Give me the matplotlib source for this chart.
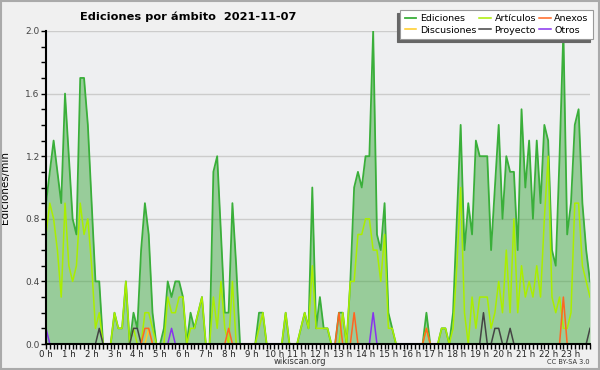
import matplotlib.pyplot as plt
from matplotlib.ticker import MultipleLocator, FixedLocator
from matplotlib.patches import Rectangle
import numpy as np

# edits per minute, one value every 10 minutes (00:00 .. 23:50)
ediciones = [
    0.9, 1.1, 1.3, 1.1, 0.9, 1.6, 1.2, 0.8, 0.7, 1.7, 1.7, 1.4,
    0.9, 0.4, 0.4, 0, 0, 0, 0.2, 0.1, 0.1, 0.4, 0, 0.2,
    0.1, 0.6, 0.9, 0.7, 0.2, 0, 0, 0.1, 0.4, 0.3, 0.4, 0.4,
    0.3, 0, 0.2, 0.1, 0.2, 0.3, 0, 0, 1.1, 1.2, 0.7, 0.2,
    0.2, 0.9, 0.5, 0, 0, 0, 0, 0, 0.2, 0.2, 0, 0,
    0, 0, 0, 0.2, 0, 0, 0, 0.1, 0.2, 0.1, 1.0, 0.1,
    0.3, 0.1, 0.1, 0, 0, 0.2, 0.2, 0, 0.4, 1.0, 1.1, 1.0,
    1.2, 1.2, 2.0, 0.7, 0.6, 0.9, 0.2, 0.1, 0, 0, 0, 0,
    0, 0, 0, 0, 0.2, 0, 0, 0, 0.1, 0.1, 0, 0.2,
    0.8, 1.4, 0.6, 0.9, 0.7, 1.3, 1.2, 1.2, 1.2, 0.6, 1.0, 1.4,
    0.8, 1.2, 1.1, 1.1, 0.6, 1.5, 1.0, 1.3, 0.8, 1.3, 0.9, 1.4,
    1.3, 0.6, 0.5, 1.2, 2.0, 0.7, 0.9, 1.4, 1.5, 0.9, 0.6, 0.4,
]
articulos = [
    0.7, 0.9, 0.8, 0.6, 0.3, 0.9, 0.5, 0.4, 0.5, 0.9, 0.7, 0.8,
    0.5, 0.1, 0.2, 0, 0, 0, 0.2, 0.1, 0.1, 0.4, 0, 0.1,
    0, 0, 0.2, 0.2, 0.1, 0, 0, 0, 0.3, 0.2, 0.2, 0.3,
    0.3, 0, 0.1, 0.1, 0.2, 0.3, 0, 0, 0.3, 0.1, 0.4, 0.1,
    0, 0.4, 0, 0, 0, 0, 0, 0, 0.1, 0.2, 0, 0,
    0, 0, 0, 0.2, 0, 0, 0, 0.1, 0.2, 0.1, 0.5, 0.1,
    0.1, 0.1, 0.1, 0, 0, 0, 0.2, 0, 0.4, 0.4, 0.7, 0.7,
    0.8, 0.8, 0.6, 0.6, 0.4, 0.7, 0.1, 0.1, 0, 0, 0, 0,
    0, 0, 0, 0, 0.1, 0, 0, 0, 0.1, 0.1, 0, 0.1,
    0.5, 1.0, 0.2, 0, 0.3, 0.1, 0.3, 0.3, 0.3, 0.1, 0.2, 0.4,
    0.2, 0.6, 0.2, 0.8, 0.2, 0.5, 0.3, 0.4, 0.3, 0.5, 0.3, 0.8,
    1.2, 0.3, 0.2, 0.3, 0.1, 0.1, 0.2, 0.9, 0.9, 0.5, 0.4, 0.3,
]
discusiones = [
    0, 0, 0, 0, 0, 0, 0, 0, 0, 0, 0, 0,
    0, 0, 0, 0, 0, 0, 0, 0, 0, 0, 0, 0,
    0, 0, 0, 0.1, 0, 0, 0, 0, 0, 0, 0, 0,
    0, 0, 0, 0, 0, 0, 0, 0, 0, 0, 0, 0,
    0, 0, 0, 0, 0, 0, 0, 0, 0, 0, 0, 0,
    0, 0, 0, 0, 0, 0, 0, 0, 0, 0, 0, 0,
    0, 0, 0, 0, 0, 0, 0, 0, 0, 0, 0, 0,
    0, 0, 0, 0, 0, 0, 0, 0, 0, 0, 0, 0,
    0, 0, 0, 0, 0, 0, 0, 0, 0, 0, 0, 0,
    0, 0, 0, 0, 0, 0, 0, 0, 0, 0, 0, 0,
    0, 0, 0, 0, 0, 0, 0, 0, 0, 0, 0, 0,
    0, 0, 0, 0, 0, 0, 0, 0, 0, 0, 0, 0,
]
proyecto = [
    0, 0, 0, 0, 0, 0, 0, 0, 0, 0, 0, 0,
    0, 0, 0.1, 0, 0, 0, 0, 0, 0, 0, 0, 0.1,
    0.1, 0, 0, 0, 0, 0, 0, 0, 0, 0, 0, 0,
    0, 0, 0, 0, 0, 0, 0, 0, 0, 0, 0, 0,
    0, 0, 0, 0, 0, 0, 0, 0, 0, 0, 0, 0,
    0, 0, 0, 0, 0, 0, 0, 0, 0, 0, 0, 0,
    0, 0, 0, 0, 0, 0, 0, 0, 0, 0, 0, 0,
    0, 0, 0, 0, 0, 0, 0, 0, 0, 0, 0, 0,
    0, 0, 0, 0, 0, 0, 0, 0, 0, 0, 0, 0,
    0, 0, 0, 0, 0, 0, 0, 0.2, 0, 0, 0.1, 0.1,
    0, 0, 0.1, 0, 0, 0, 0, 0, 0, 0, 0, 0,
    0, 0, 0, 0, 0, 0, 0, 0, 0, 0, 0, 0.1,
]
anexos = [
    0, 0, 0, 0, 0, 0, 0, 0, 0, 0, 0, 0,
    0, 0, 0, 0, 0, 0, 0, 0, 0, 0, 0, 0,
    0, 0, 0.1, 0.1, 0, 0, 0, 0, 0, 0, 0, 0,
    0, 0, 0, 0, 0, 0, 0, 0, 0, 0, 0, 0,
    0.1, 0, 0, 0, 0, 0, 0, 0, 0, 0, 0, 0,
    0, 0, 0, 0, 0, 0, 0, 0, 0, 0, 0, 0,
    0, 0, 0, 0, 0, 0.2, 0, 0, 0, 0.2, 0, 0,
    0, 0, 0, 0, 0, 0, 0, 0, 0, 0, 0, 0,
    0, 0, 0, 0, 0.1, 0, 0, 0, 0, 0, 0, 0,
    0, 0, 0, 0, 0, 0, 0, 0, 0, 0, 0, 0,
    0, 0, 0, 0, 0, 0, 0, 0, 0, 0, 0, 0,
    0, 0, 0, 0, 0.3, 0, 0, 0, 0, 0, 0, 0,
]
otros = [
    0.1, 0, 0, 0, 0, 0, 0, 0, 0, 0, 0, 0,
    0, 0, 0, 0, 0, 0, 0, 0, 0, 0, 0, 0,
    0, 0, 0, 0, 0, 0, 0, 0, 0, 0.1, 0, 0,
    0, 0, 0, 0, 0, 0, 0, 0, 0, 0, 0, 0,
    0, 0, 0, 0, 0, 0, 0, 0, 0, 0, 0, 0,
    0, 0, 0, 0, 0, 0, 0, 0, 0, 0, 0, 0,
    0, 0, 0, 0, 0, 0, 0, 0, 0, 0, 0, 0,
    0, 0, 0.2, 0, 0, 0, 0, 0, 0, 0, 0, 0,
    0, 0, 0, 0, 0, 0, 0, 0, 0, 0, 0, 0,
    0, 0, 0, 0, 0, 0, 0, 0, 0, 0, 0, 0,
    0, 0, 0, 0, 0, 0, 0, 0, 0, 0, 0, 0,
    0, 0, 0, 0, 0, 0, 0, 0, 0, 0, 0, 0,
]
hour_labels = [f"{h} h" for h in range(24)]

x = np.arange(len(ediciones))

fig = plt.figure(figsize=(6, 3.7), dpi=100, facecolor="#f0f0f0")
ax = fig.add_axes([46 / 600, 26 / 370, 544 / 600, 313 / 370])
ax.set_facecolor("#eeeff1")

# total edits as filled area
ax.fill_between(x, ediciones, color="#44aa44", alpha=0.5, lw=0, zorder=1)
ax.plot(x, ediciones, color="#3aaf3a", lw=1.3, label="Ediciones", zorder=3)
ax.plot(x, discusiones, color="#ffcc22", lw=1.1, label="Discusiones", zorder=3)
ax.plot(x, articulos, color="#aaee00", lw=1.1, label="Artículos", zorder=3)
ax.plot(x, proyecto, color="#444444", lw=1.1, label="Proyecto", zorder=3)
ax.plot(x, anexos, color="#ff6622", lw=1.1, label="Anexos", zorder=3)
ax.plot(x, otros, color="#8833ee", lw=1.1, label="Otros", zorder=3)

ax.set_xlim(0, len(ediciones) - 1)
ax.set_ylim(0, 2.0)

ax.xaxis.set_major_locator(FixedLocator(range(0, 144, 6)))
ax.set_xticklabels(hour_labels)
ax.xaxis.set_minor_locator(MultipleLocator(1))
ax.yaxis.set_major_locator(MultipleLocator(0.4))
ax.yaxis.set_minor_locator(MultipleLocator(0.1))
ax.yaxis.set_major_formatter(lambda v, p: f"{v:.1f}")
ax.tick_params(which="both", direction="out", length=3.5, width=1, colors="black",
               labelsize=6.5, pad=1)
ax.tick_params(axis="x", labelcolor="#222222", labelsize=6.2, pad=0.5)
ax.tick_params(axis="y", labelcolor="#444444")

ax.yaxis.grid(True, color="#cccccc", lw=1)
ax.set_axisbelow(True)
for s in ["top", "right"]:
    ax.spines[s].set_visible(False)
for s in ["left", "bottom"]:
    ax.spines[s].set_linewidth(1.5)
    ax.spines[s].set_zorder(5)

ax.set_ylabel("Ediciones/min", fontsize=7.5)
ax.yaxis.set_label_coords(-0.066, 0.5)

fig.text(188 / 600, 1 - 17 / 370, "Ediciones por ámbito  2021-11-07",
         ha="center", va="center", fontsize=8.2, fontweight="bold")
fig.text(300 / 600, 1 - 362 / 370, "wikiscan.org", ha="center", va="center",
         fontsize=6, color="#333333")
fig.text(590 / 600, 1 - 362 / 370, "CC BY-SA 3.0", ha="right", va="center",
         fontsize=4.8, color="#333333")

leg = fig.legend(loc="upper right", bbox_to_anchor=(593 / 600, 1 - 10 / 370),
                 ncol=3, fontsize=6.8, frameon=True, fancybox=False,
                 handlelength=1.2, handletextpad=0.4, columnspacing=0.35,
                 labelspacing=0.25, borderpad=0.45, borderaxespad=0,
                 shadow={"ox": -2.5, "oy": -2.5, "facecolor": "#666666",
                         "edgecolor": "#666666", "alpha": 1})
leg.get_frame().set_edgecolor("#999999")
leg.get_frame().set_linewidth(0.8)

fig.patches.append(Rectangle((0.001, 0.002), 0.997, 0.996, transform=fig.transFigure,
                             fill=False, edgecolor="#aaaaaa", lw=1.5))

fig.savefig("out.png", dpi=100, facecolor=fig.get_facecolor())
